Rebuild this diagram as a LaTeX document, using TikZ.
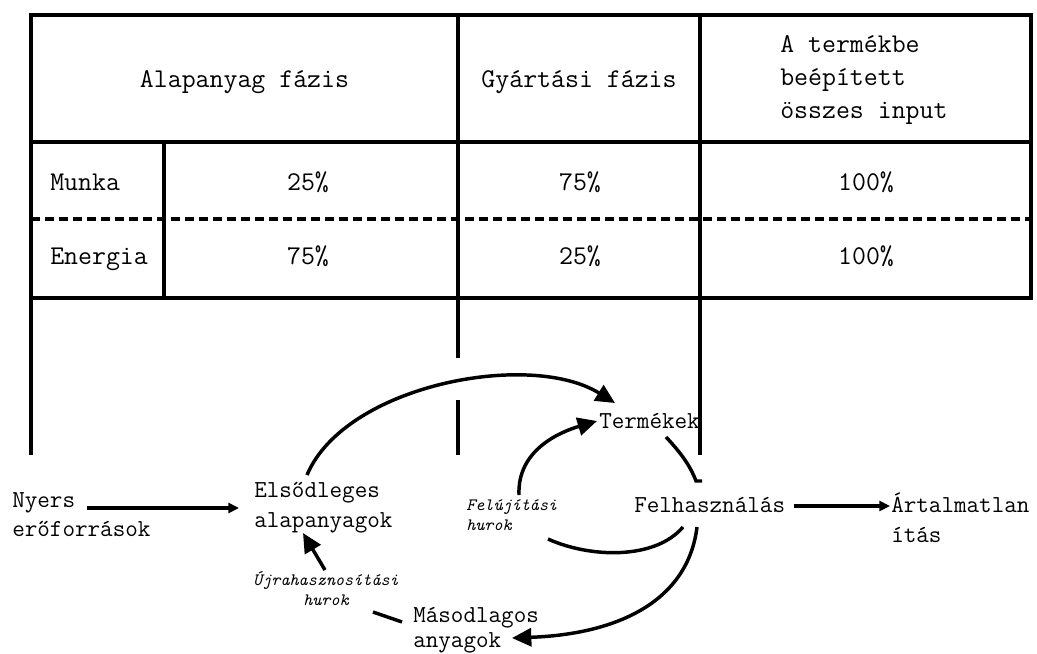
\documentclass[tikz,border=0pt]{standalone}
\usepackage{fontspec}
\usetikzlibrary{arrows.meta,calc}
\begin{document}
\begin{tikzpicture}[x=0.75pt,y=-0.75pt,
  tline/.style={line width=2.6pt},
  dline/.style={line width=3pt, dash pattern=on 7pt off 3.5pt},
  conn/.style={line width=2.6pt},
  bigarr/.style={conn, -{Triangle[length=14.5pt,width=13.5pt]}},
  smallarr/.style={conn, -{Triangle[length=8pt,width=7.5pt]}},
  ttext/.style={inner sep=0pt, font=\ttfamily\fontsize{20.3}{22}\selectfont},
  btext/.style={inner sep=0pt, font=\ttfamily\fontsize{18.3}{20}\selectfont},
  itext/.style={inner sep=0pt, font=\ttfamily\fontsize{13}{15}\selectfont\itshape},
]
\useasboundingbox (0,0) rectangle (1037,653);

% ---------- table ----------
\draw[tline] (31,15) rectangle (1031,298);
\draw[tline] (31,142) -- (1031,142);
\draw[tline] (164,142) -- (164,298);
\draw[tline] (458,15) -- (458,298);
\draw[tline] (700,15) -- (700,298);
\draw[dline] (31,219) -- (1031,219);

% continuation lines below the table
\draw[tline] (31,298) -- (31,455);
\draw[tline] (458,298) -- (458,358);
\draw[tline] (458,400) -- (458,455);
\draw[tline] (700,298) -- (700,455);

% header texts
\node[ttext, anchor=base] (hAlap) at (244.5,87) {Alapanyag fázis};
\node[ttext, anchor=base] (hGyart) at (579,87) {Gyártási fázis};
\node[ttext, anchor=base west] (hOssz1) at (780,52) {A termékbe};
\node[ttext, anchor=base west] (hOssz2) at (780,85) {beépített};
\node[ttext, anchor=base west] (hOssz3) at (780,118) {összes input};

% rows
\node[ttext, anchor=base west] (rMunka) at (50,190) {Munka};
\node[ttext, anchor=base] (m1) at (308,190) {25\%};
\node[ttext, anchor=base] (m2) at (580,190) {75\%};
\node[ttext, anchor=base] (m3) at (866,190) {100\%};
\node[ttext, anchor=base west] (rEnergia) at (50,264) {Energia};
\node[ttext, anchor=base] (e1) at (308,264) {75\%};
\node[ttext, anchor=base] (e2) at (580,264) {25\%};
\node[ttext, anchor=base] (e3) at (866,264) {100\%};

% ---------- flow diagram ----------
\node[btext, anchor=base west] (nyers1) at (12,507) {Nyers};
\node[btext, anchor=base west] (nyers2) at (12,536) {erőforrások};
\node[btext, anchor=base west] (elso1) at (254,497) {Elsődleges};
\node[btext, anchor=base west] (elso2) at (254,527) {alapanyagok};
\node[btext, anchor=base west] (termek) at (599,428) {Termékek};
\node[btext, anchor=base west] (felh) at (634,512) {Felhasználás};
\node[btext, anchor=base west] (art1) at (891,512) {Ártalmatlan};
\node[btext, anchor=base west] (art2) at (891,542) {ítás};
\node[btext, anchor=base west] (maso1) at (413,622) {Másodlagos};
\node[btext, anchor=base west] (maso2) at (413,647) {anyagok};

\node[itext, anchor=base west] (felu1) at (466,510) {Felújítási};
\node[itext, anchor=base west] (felu2) at (466,530) {hurok};
\node[itext, anchor=base] (ujra1) at (326,585) {Újrahasznosítási};
\node[itext, anchor=base] (ujra2) at (326,605) {hurok};

% connector end points
\coordinate (elsoTop) at (307,475);
\coordinate (termTipA) at (615,403);
\coordinate (feluStart) at (519,495);
\coordinate (termTipB) at (597,421);
\coordinate (termOut) at (666,437);
\coordinate (felhIn) at (696,481);
\coordinate (felhOutA) at (683,527);
\coordinate (feluEnd) at (548,539);
\coordinate (felhOutB) at (697,527);
\coordinate (masoTip) at (512,638);
\coordinate (ujraStart) at (325,570);
\coordinate (elsoBot) at (303,533);
\coordinate (masoOut) at (402,622);
\coordinate (ujraIn) at (373,612);

% straight arrows
\draw[smallarr] ($(nyers1.base east)+(12,1)$) -- ($(elso1.base west)+(-15,11)$);
\draw[smallarr] ($(felh.base east)+(9,-6)$) -- ($(art1.base west)+(-1,-6)$);

% curved connectors
\draw[bigarr] (elsoTop) .. controls (345,385) and (530,350) .. (termTipA);
\draw[bigarr] (feluStart) .. controls (517,450) and (560,432) .. (termTipB);
\draw[conn] (termOut) .. controls (680,452) and (690,465) .. (felhIn) -- ++(6,0);
\draw[conn] (felhOutA) .. controls (655,560) and (590,558) .. (feluEnd);
\draw[bigarr] (felhOutB) .. controls (688,600) and (620,634) .. (masoTip);
\draw[bigarr] (ujraStart) -- (elsoBot);
\draw[conn] (masoOut) -- (ujraIn);
\end{tikzpicture}
\end{document}
